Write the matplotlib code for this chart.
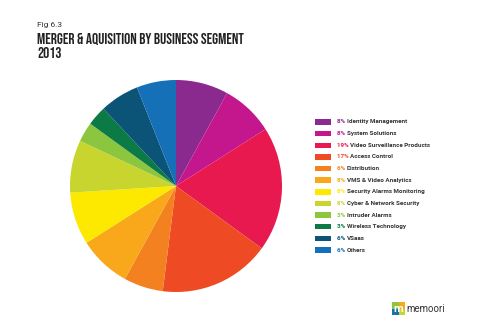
import matplotlib
matplotlib.use('Agg')
import matplotlib.pyplot as plt
from matplotlib.patches import Rectangle

labels = ['Identity Management', 'System Solutions', 'Video Surveillance Products',
          'Access Control', 'Distribution', 'VMS & Video Analytics',
          'Security Alarms Monitoring', 'Cyber & Network Security',
          'Intruder Alarms', 'Wireless Technology', 'VSaas', 'Others']
shares = [8, 8, 19, 17, 6, 8, 8, 8, 3, 3, 6, 6]
colors = ['#8B2A8E', '#C4168D', '#E8194F', '#EE4A24', '#F4811F', '#F9A71B',
          '#FDE800', '#C8D52E', '#8CC63F', '#0B7A45', '#0B5377', '#1570B8']

W, H = 495, 330
fig = plt.figure(figsize=(W / 100, H / 100), dpi=100)
fig.patch.set_facecolor('white')

# pie, centre (176,186) px, radius 106 px
cx, cy, r = 176, 186, 106
ax = fig.add_axes([(cx - r) / W, (H - cy - r) / H, 2 * r / W, 2 * r / H])
ax.pie(shares, colors=colors, startangle=90, counterclock=False,
       wedgeprops=dict(linewidth=0))
ax.set_xlim(-1, 1)
ax.set_ylim(-1, 1)
ax.set_aspect('auto')
ax.axis('off')

# titles
fig.text(37 / W, 1 - 25.5 / H, 'Fig 6.3', fontsize=6, color='#333333', va='center',
         family=['Roboto', 'DejaVu Sans'])
fig.text(37 / W, 1 - 44 / H, 'MERGER & AQUISITION BY BUSINESS SEGMENT', fontsize=11,
         family=['Bebas Neue', 'DejaVu Sans'], color='#222222', va='baseline')
fig.text(37 / W, 1 - 58.5 / H, '2013', fontsize=11,
         family=['Bebas Neue', 'DejaVu Sans'], color='#222222', va='baseline')

# legend
fig.canvas.draw()
renderer = fig.canvas.get_renderer()
y0, dy = 122, 11.64
for i, (lab, s, c) in enumerate(zip(labels, shares, colors)):
    y = y0 + i * dy
    fig.patches.append(Rectangle((315 / W, 1 - (y + 2.7) / H), 16 / W, 5.4 / H,
                                 transform=fig.transFigure, facecolor=c, edgecolor='none'))
    t = fig.text(337 / W, 1 - y / H, f'{s}% ', fontsize=4.5, fontweight='bold',
                 family=['Roboto', 'DejaVu Sans'], color=c, va='center')
    ext = t.get_window_extent(renderer)
    fig.text(ext.x1 / W, 1 - y / H, lab, fontsize=4.5, fontweight='bold',
             family=['Roboto', 'DejaVu Sans'], color='#333333', va='center')

# logo
lx, ly = 392, 302
logo_cols = ['#8CC63F', '#F9A71B', '#1570B8', '#C8D52E']
for k, lc in enumerate(logo_cols):
    fig.patches.append(Rectangle(((lx + (k % 2) * 6.5) / W, 1 - (ly + 6.5 + (k // 2) * 6.5) / H),
                                 6.5 / W, 6.5 / H, transform=fig.transFigure,
                                 facecolor=lc, edgecolor='none'))
fig.text((lx + 6.5) / W, 1 - (ly + 6.5) / H, 'm', fontsize=8, color='white',
         fontweight='bold', ha='center', va='center', family=['Roboto', 'DejaVu Sans'])
fig.text((lx + 14) / W, 1 - (ly + 7) / H, 'memoori', fontsize=7, color='#333333',
         va='center', family=['Roboto', 'DejaVu Sans'])

fig.savefig('out.png', dpi=100, facecolor='white')
